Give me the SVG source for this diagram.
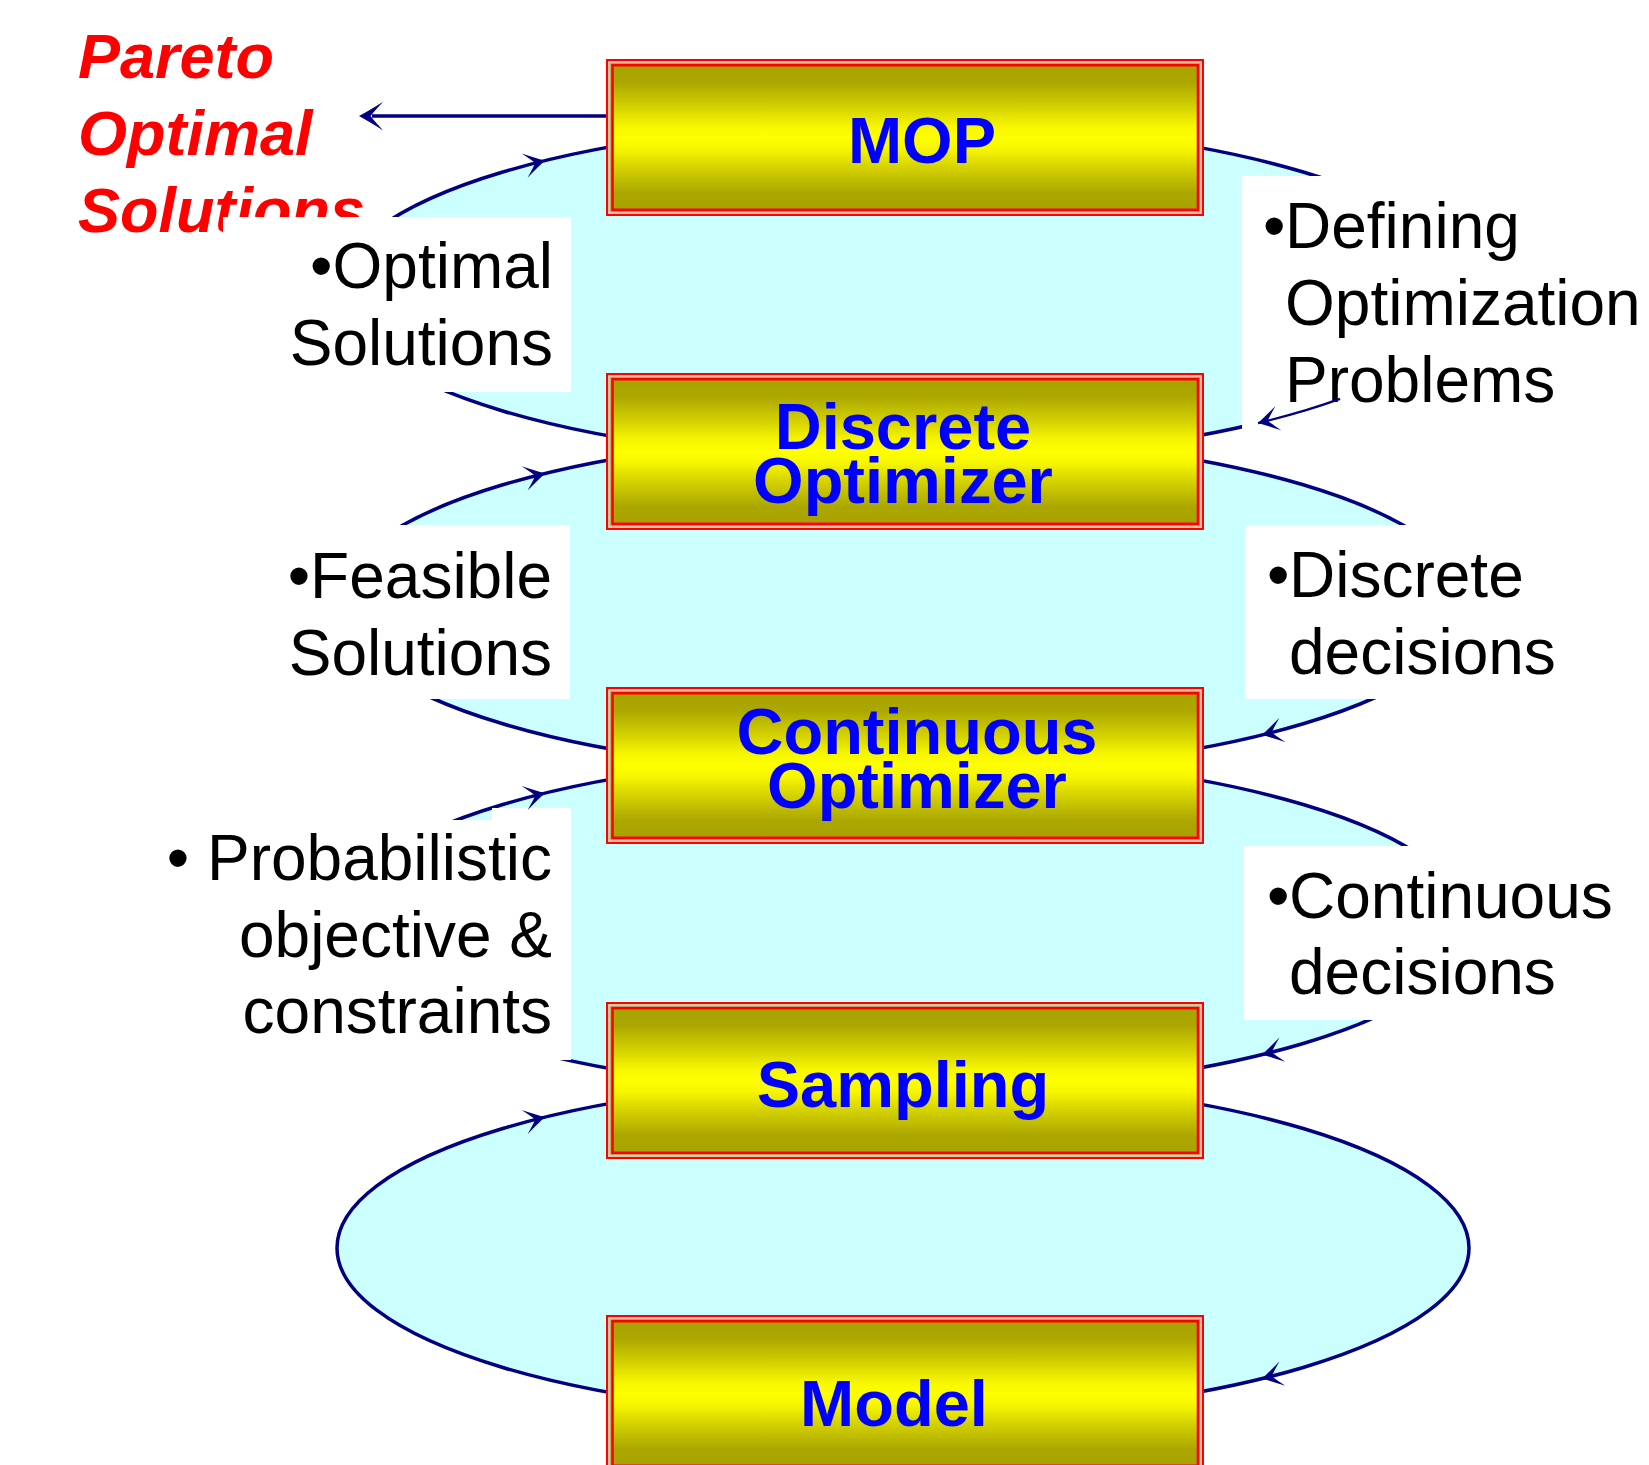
<svg xmlns="http://www.w3.org/2000/svg" xmlns:xlink="http://www.w3.org/1999/xlink" width="1649" height="1465" viewBox="0 0 1649 1465">
  <style>
    .loop { fill: #CCFFFF; stroke: #000080; stroke-width: 3.5; }
    .head { fill: #000080; }
    .wire { fill: none; stroke: #000080; }
    .node-text { font-family: "Liberation Sans", Arial, sans-serif; font-weight: bold; font-size: 65px; fill: #0000FF; text-anchor: middle; }
    .note { font-family: "Liberation Sans", Arial, sans-serif; font-size: 64px; fill: #000000; }
    .note-left { text-anchor: end; }
    .pareto { font-family: "Liberation Sans", Arial, sans-serif; font-weight: bold; font-style: italic; font-size: 63px; fill: #FF0000; }
    .pad { fill: #FFFFFF; }
  </style>
  <defs>
    <linearGradient id="gold" x1="0" y1="0" x2="0" y2="1">
      <stop offset="0" stop-color="#A8A200"/>
      <stop offset="0.12" stop-color="#ACA700"/>
      <stop offset="0.3" stop-color="#D6D400"/>
      <stop offset="0.42" stop-color="#F6F600"/>
      <stop offset="0.5" stop-color="#FFFF00"/>
      <stop offset="0.58" stop-color="#F6F600"/>
      <stop offset="0.7" stop-color="#D6D400"/>
      <stop offset="0.88" stop-color="#ACA700"/>
      <stop offset="1" stop-color="#A8A200"/>
    </linearGradient>
    <!-- barbed arrowhead, tip at the origin, pointing along +x -->
    <path id="barb" d="M0,0 Q-9,-5 -21,-12.5 Q-13,-4 -10,0 Q-13,4 -21,12.5 Q-9,5 0,0 Z"/>
    <!-- double red frame with gold fill, positioned by y offset -->
    <g id="frame">
      <rect x="607" y="1" width="596" height="155" fill="#B8AE6C" stroke="#FF0000" stroke-width="2"/>
      <rect x="609" y="3" width="592" height="151" fill="none" stroke="#EED4CC" stroke-width="1.2"/>
      <rect x="612.5" y="6.2" width="585.5" height="144.6" fill="url(#gold)" stroke="#FF0000" stroke-width="2.6"/>
    </g>
    <!-- the white note panels cut the loops -->
    <mask id="noteHoles" maskUnits="userSpaceOnUse" x="0" y="0" width="1649" height="1465">
      <rect x="0" y="0" width="1649" height="1465" fill="#FFFFFF"/>
      <rect x="223" y="217" width="348" height="175" fill="#000000"/>
      <rect x="1242" y="176" width="420" height="253" fill="#000000"/>
      <rect x="270" y="525" width="300" height="174" fill="#000000"/>
      <rect x="1245" y="525" width="410" height="174" fill="#000000"/>
      <polygon points="150,820 492,820 492,808 571,808 571,1060 150,1060" fill="#000000"/>
      <rect x="1244" y="846" width="410" height="174" fill="#000000"/>
    </mask>
  </defs>

  <rect x="0" y="0" width="1649" height="1465" fill="#FFFFFF"/>

  <!-- output caption -->
  <g id="pareto-caption">
    <text class="pareto" x="78" y="78">Pareto</text>
    <text class="pareto" x="78" y="155">Optimal</text>
    <text class="pareto" x="78" y="232">Solutions</text>
  </g>

  <!-- note panels -->
  <g id="notes">
    <g id="note-optimal">
      <rect class="pad" x="223" y="217" width="348" height="175"/>
      <text class="note note-left" x="553" y="288">•Optimal</text>
      <text class="note note-left" x="553" y="365">Solutions</text>
    </g>
    <g id="note-defining">
      <rect class="pad" x="1242" y="176" width="420" height="253"/>
      <text class="note" x="1263" y="248">•</text>
      <text class="note" x="1285" y="248">Defining</text>
      <text class="note" x="1285" y="325">Optimization</text>
      <text class="note" x="1285" y="402">Problems</text>
    </g>
    <g id="note-feasible">
      <rect class="pad" x="270" y="525" width="300" height="174"/>
      <text class="note note-left" x="552" y="598">•Feasible</text>
      <text class="note note-left" x="552" y="675">Solutions</text>
    </g>
    <g id="note-discrete">
      <rect class="pad" x="1245" y="525" width="410" height="174"/>
      <text class="note" x="1267" y="597">•</text>
      <text class="note" x="1289" y="597">Discrete</text>
      <text class="note" x="1289" y="674">decisions</text>
    </g>
    <g id="note-probabilistic">
      <polygon class="pad" points="150,820 492,820 492,808 571,808 571,1060 150,1060"/>
      <text class="note note-left" x="552" y="880">• Probabilistic</text>
      <text class="note note-left" x="552" y="957">objective &amp;</text>
      <text class="note note-left" x="552" y="1033">constraints</text>
    </g>
    <g id="note-continuous">
      <rect class="pad" x="1244" y="846" width="410" height="174"/>
      <text class="note" x="1267" y="918">•</text>
      <text class="note" x="1289" y="918">Continuous</text>
      <text class="note" x="1289" y="994">decisions</text>
    </g>
  </g>

  <!-- loops between neighbouring stages, with their arrowheads -->
  <g id="connectors">
    <g mask="url(#noteHoles)">
      <ellipse class="loop" cx="903" cy="291.5" rx="566" ry="169"/>
      <ellipse class="loop" cx="903" cy="604.3" rx="566" ry="169"/>
      <ellipse class="loop" cx="903" cy="924" rx="566" ry="169"/>
      <ellipse class="loop" cx="903" cy="1248" rx="566" ry="169"/>
    </g>
    <!-- upward flow on the left arcs -->
    <use xlink:href="#barb" class="head" transform="translate(545,160.6) rotate(-13.7)"/>
    <use xlink:href="#barb" class="head" transform="translate(545,473.4) rotate(-13.7)"/>
    <use xlink:href="#barb" class="head" transform="translate(545,793.1) rotate(-13.7)"/>
    <use xlink:href="#barb" class="head" transform="translate(545,1117.1) rotate(-13.7)"/>
    <!-- downward flow on the right arcs -->
    <path class="wire" stroke-width="2.2" d="M1340,398.9 A566,169 0 0,1 1258,423.1"/>
    <use xlink:href="#barb" class="head" transform="translate(1258,423.1) rotate(166.5)"/>
    <use xlink:href="#barb" class="head" transform="translate(1262,735) rotate(166.2)"/>
    <use xlink:href="#barb" class="head" transform="translate(1262,1054.7) rotate(166.2)"/>
    <use xlink:href="#barb" class="head" transform="translate(1262,1378.7) rotate(166.2)"/>
    <!-- MOP output -->
    <line class="wire" stroke-width="3.6" x1="607" y1="116" x2="372" y2="116"/>
    <use xlink:href="#barb" class="head" transform="translate(359,116) rotate(180) scale(1.15)"/>
  </g>

  <!-- stages -->
  <g id="node-mop">
    <use xlink:href="#frame" y="59"/>
    <text class="node-text" x="922" y="163">MOP</text>
  </g>
  <g id="node-discrete">
    <use xlink:href="#frame" y="373"/>
    <text class="node-text" x="903" y="449">Discrete</text>
    <text class="node-text" x="903" y="503">Optimizer</text>
  </g>
  <g id="node-continuous">
    <use xlink:href="#frame" y="687"/>
    <text class="node-text" x="917" y="754">Continuous</text>
    <text class="node-text" x="917" y="808">Optimizer</text>
  </g>
  <g id="node-sampling">
    <use xlink:href="#frame" y="1002"/>
    <text class="node-text" x="903" y="1107">Sampling</text>
  </g>
  <g id="node-model">
    <use xlink:href="#frame" y="1315"/>
    <text class="node-text" x="894" y="1426">Model</text>
  </g>
</svg>
